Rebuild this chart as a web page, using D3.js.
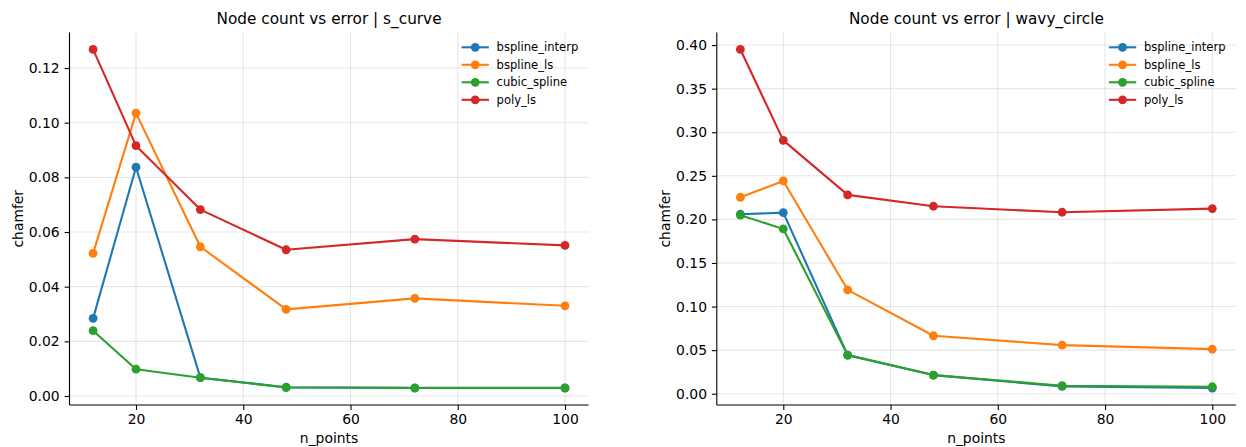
<!DOCTYPE html>
<html>
<head>
<meta charset="utf-8">
<script src="https://cdn.jsdelivr.net/npm/d3@7"></script>
<style>
  html, body { margin: 0; padding: 0; background: #fff; }
  svg { display: block; font-family: "DejaVu Sans", sans-serif; }
</style>
</head>
<body>
<svg id="chart" width="1246" height="447"></svg>
<script>
// ---------------- DATA ----------------
const nPoints = [12, 20, 32, 48, 72, 100];
const seriesNames = ["bspline_interp", "bspline_ls", "cubic_spline", "poly_ls"];
const seriesColors = ["#1f77b4", "#ff7f0e", "#2ca02c", "#d62728"];

// s_curve panel
const sCurveBsplineInterp = [0.0284, 0.0837, 0.0067, 0.0032, 0.0030, 0.0030];
const sCurveBsplineLs     = [0.0522, 0.1035, 0.0546, 0.0317, 0.0357, 0.0330];
const sCurveCubicSpline   = [0.0239, 0.0098, 0.0067, 0.0031, 0.0029, 0.0029];
const sCurvePolyLs        = [0.1268, 0.0916, 0.0682, 0.0535, 0.0574, 0.0551];
const sCurveYTicks = [0.00, 0.02, 0.04, 0.06, 0.08, 0.10, 0.12];

// wavy_circle panel
const wavyBsplineInterp = [0.2059, 0.2078, 0.0443, 0.0214, 0.0084, 0.0065];
const wavyBsplineLs     = [0.2254, 0.2441, 0.1192, 0.0665, 0.0558, 0.0512];
const wavyCubicSpline   = [0.2048, 0.1891, 0.0443, 0.0214, 0.0092, 0.0080];
const wavyPolyLs        = [0.3950, 0.2907, 0.2281, 0.2151, 0.2082, 0.2124];
const wavyYTicks = [0.00, 0.05, 0.10, 0.15, 0.20, 0.25, 0.30, 0.35, 0.40];

const xTicks = [20, 40, 60, 80, 100];

const panels = [
  { title: "Node count vs error | s_curve",
    series: [sCurveBsplineInterp, sCurveBsplineLs, sCurveCubicSpline, sCurvePolyLs],
    yTicks: sCurveYTicks, x0: 69.5, x1: 588.6, ylabX: 22.5 },
  { title: "Node count vs error | wavy_circle",
    series: [wavyBsplineInterp, wavyBsplineLs, wavyCubicSpline, wavyPolyLs],
    yTicks: wavyYTicks, x0: 716.8, x1: 1235.9, ylabX: 669.8 }
];

// ---------------- DRAW ----------------
const svg = d3.select("#chart");
const plotTop = 32.5, plotBottom = 405;
const fmt = d3.format(".2f");

function padded(lo, hi) {
  const m = (hi - lo) * 0.05;
  return [lo - m, hi + m];
}

panels.forEach(p => {
  const x = d3.scaleLinear()
    .domain(padded(d3.min(nPoints), d3.max(nPoints)))
    .range([p.x0, p.x1]);
  const all = p.series.flat();
  const y = d3.scaleLinear()
    .domain(padded(d3.min(all), d3.max(all)))
    .range([plotBottom, plotTop]);

  const g = svg.append("g");

  // grid
  g.append("g").selectAll("line").data(p.yTicks).join("line")
    .attr("x1", p.x0).attr("x2", p.x1)
    .attr("y1", d => y(d)).attr("y2", d => y(d))
    .attr("stroke", "#b0b0b0").attr("stroke-opacity", 0.3).attr("stroke-width", 1.1);
  g.append("g").selectAll("line").data(xTicks).join("line")
    .attr("x1", d => x(d)).attr("x2", d => x(d))
    .attr("y1", plotTop).attr("y2", plotBottom)
    .attr("stroke", "#b0b0b0").attr("stroke-opacity", 0.3).attr("stroke-width", 1.1);

  // axes
  const xAxis = d3.axisBottom(x).tickValues(xTicks).tickSize(4.9).tickPadding(4.3)
    .tickFormat(d3.format("d"));
  const gx = g.append("g").attr("transform", `translate(0,${plotBottom})`).call(xAxis);
  const yAxis = d3.axisLeft(y).tickValues(p.yTicks).tickSize(4.9).tickPadding(4.9)
    .tickFormat(fmt);
  const gy = g.append("g").attr("transform", `translate(${p.x0},0)`).call(yAxis);

  [gx, gy].forEach(a => {
    a.select(".domain").remove();
    a.selectAll(".tick line").attr("stroke", "#000").attr("stroke-width", 1.1);
    a.selectAll(".tick text").attr("fill", "#000")
      .style("font-family", "DejaVu Sans").style("font-size", "13.9px");
  });
  // spines
  g.append("line").attr("x1", p.x0).attr("x2", p.x0).attr("y1", plotTop).attr("y2", plotBottom)
    .attr("stroke", "#000").attr("stroke-width", 1.1);
  g.append("line").attr("x1", p.x0).attr("x2", p.x1).attr("y1", plotBottom).attr("y2", plotBottom)
    .attr("stroke", "#000").attr("stroke-width", 1.1);

  // lines and markers
  const line = d3.line().x((d, i) => x(nPoints[i])).y(d => y(d));
  p.series.forEach((vals, si) => {
    const s = g.append("g");
    s.append("path").datum(vals).attr("d", line)
      .attr("fill", "none").attr("stroke", seriesColors[si])
      .attr("stroke-width", 2.1).attr("stroke-linejoin", "round").attr("stroke-linecap", "round");
    s.selectAll("circle").data(vals).join("circle")
      .attr("cx", (d, i) => x(nPoints[i])).attr("cy", d => y(d))
      .attr("r", 4.4).attr("fill", seriesColors[si]);
  });

  // title
  g.append("text").attr("x", (p.x0 + p.x1) / 2).attr("y", 24)
    .attr("text-anchor", "middle").style("font-size", "15.3px").attr("fill", "#000")
    .text(p.title);
  // x label
  g.append("text").attr("x", (p.x0 + p.x1) / 2).attr("y", 443)
    .attr("text-anchor", "middle").style("font-size", "13.9px").attr("fill", "#000")
    .text("n_points");
  // y label
  g.append("text")
    .attr("transform", `translate(${p.ylabX},${(plotTop + plotBottom) / 2}) rotate(-90)`)
    .attr("text-anchor", "middle").style("font-size", "13.9px").attr("fill", "#000")
    .text("chamfer");

  // legend
  const lgRight = p.x1 - 10.3;
  const textStart = lgRight - 81.7;
  const handleX0 = textStart - 35;
  const handleX1 = handleX0 + 27.3;
  const rowY = [47.3, 64.8, 82.3, 99.8];
  seriesNames.forEach((name, si) => {
    const ly = rowY[si];
    g.append("line").attr("x1", handleX0).attr("x2", handleX1).attr("y1", ly).attr("y2", ly)
      .attr("stroke", seriesColors[si]).attr("stroke-width", 2.1);
    g.append("circle").attr("cx", (handleX0 + handleX1) / 2).attr("cy", ly).attr("r", 4.4)
      .attr("fill", seriesColors[si]);
    g.append("text").attr("x", textStart).attr("y", ly + 4.1)
      .style("font-size", "11.57px").attr("fill", "#000").text(name);
  });
});
</script>
</body>
</html>
